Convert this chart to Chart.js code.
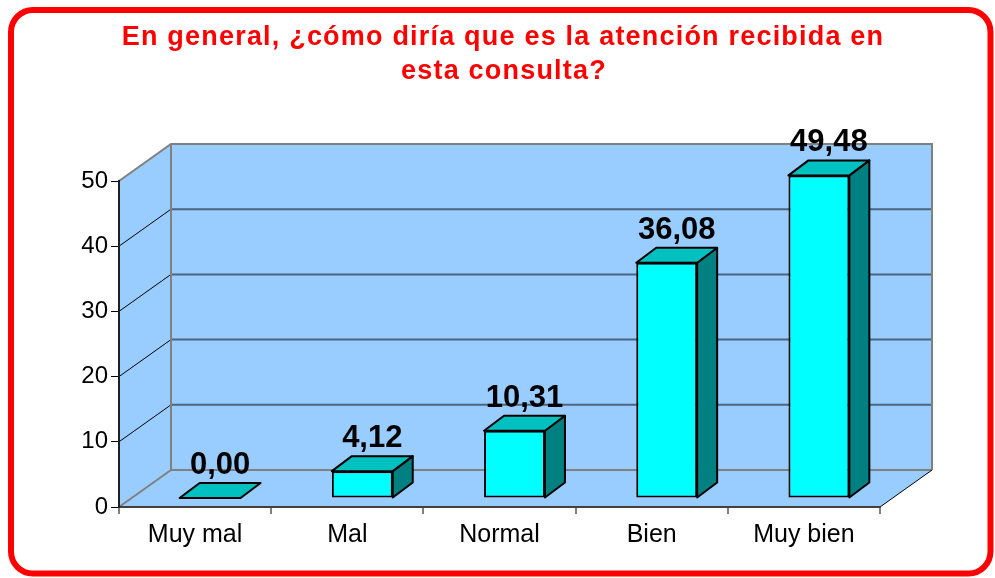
<!DOCTYPE html>
<html>
<head>
<meta charset="utf-8">
<script src="https://cdn.jsdelivr.net/npm/chart.js@4"></script>
<style>
  html, body { margin: 0; padding: 0; background: #fff; }
  #wrap { width: 995px; height: 578px; }
</style>
</head>
<body>
<div id="wrap"><canvas id="chart" width="995" height="578"></canvas></div>
<script>
let categorias = ['Muy mal', 'Mal', 'Normal', 'Bien', 'Muy bien'];
let porcentajes = [0.00, 4.12, 10.31, 36.08, 49.48];
let ticks_y = [0, 10, 20, 30, 40, 50];
let titulo = ['En general, ¿cómo diría que es la atención recibida en', 'esta consulta?'];

let fuente = '"Liberation Sans", Arial, sans-serif';

// profundidad del efecto 3D
let fondo = { dx: 52, dy: -37 };   // pared del fondo
let plano = { dx: 15, dy: -9 };    // cara frontal de las barras
let caja = { dx: 20, dy: -15 };    // grosor de cada barra

function coma(v) {
    return v.toFixed(2).replace('.', ',');
}

let marco3d = {
    id: 'marco3d',
    beforeDraw: function (chart) {
        let ctx = chart.ctx;
        let a = chart.chartArea;
        let ys = chart.scales.y;
        let L = a.left, R = a.right, T = a.top, B = a.bottom;
        let dx = fondo.dx, dy = fondo.dy;

        ctx.save();
        ctx.fillStyle = '#fff';
        ctx.fillRect(0, 0, chart.width, chart.height);

        // titulo
        ctx.fillStyle = '#ff0000';
        ctx.font = 'bold 27px ' + fuente;
        ctx.letterSpacing = '1.2px';
        ctx.textAlign = 'center';
        ctx.textBaseline = 'alphabetic';
        ctx.fillText(titulo[0], 503, 45);
        ctx.fillText(titulo[1], 504, 79);
        ctx.letterSpacing = '0px';

        // paredes
        ctx.fillStyle = '#99ccff';
        ctx.beginPath();
        ctx.moveTo(L, B); ctx.lineTo(L + dx, B + dy); ctx.lineTo(L + dx, T + dy); ctx.lineTo(L, T);
        ctx.closePath(); ctx.fill();
        ctx.beginPath();
        ctx.moveTo(L, B); ctx.lineTo(R, B); ctx.lineTo(R + dx, B + dy); ctx.lineTo(L + dx, B + dy);
        ctx.closePath(); ctx.fill();
        ctx.fillRect(L + dx, T + dy, R - L, B - T);

        // lineas de division
        ticks_y.forEach(function (t) {
            let y = ys.getPixelForValue(t);
            if (t > 0 && t < 50) {
                ctx.strokeStyle = '#4d6480';
                ctx.lineWidth = 2;
                ctx.beginPath();
                ctx.moveTo(L + dx, y + dy); ctx.lineTo(R + dx, y + dy);
                ctx.stroke();
                ctx.strokeStyle = '#000';
                ctx.lineWidth = 1;
                ctx.beginPath();
                ctx.moveTo(L, y); ctx.lineTo(L + dx, y + dy);
                ctx.stroke();
            }
        });

        // bordes grises
        ctx.strokeStyle = '#808080';
        ctx.lineWidth = 2;
        ctx.beginPath();
        ctx.moveTo(L, T); ctx.lineTo(L + dx, T + dy); ctx.lineTo(R + dx, T + dy); ctx.lineTo(R + dx, B + dy);
        ctx.moveTo(L + dx, T + dy); ctx.lineTo(L + dx, B + dy); ctx.lineTo(R + dx, B + dy);
        ctx.moveTo(L, B); ctx.lineTo(L + dx, B + dy);
        ctx.stroke();
        ctx.strokeStyle = '#000';
        ctx.lineWidth = 1;
        ctx.beginPath();
        ctx.moveTo(R, B); ctx.lineTo(R + dx, B + dy);
        ctx.stroke();

        // marco rojo
        ctx.strokeStyle = '#ff0000';
        ctx.lineWidth = 6;
        ctx.beginPath();
        ctx.roundRect(11, 10, 979.5, 563.5, 22);
        ctx.stroke();
        ctx.restore();
    },
    beforeDatasetDraw: function (chart) {
        chart.ctx.save();
        chart.ctx.translate(plano.dx, plano.dy);
    },
    afterDatasetDraw: function (chart) {
        chart.ctx.restore();
    },
    afterDatasetsDraw: function (chart) {
        let ctx = chart.ctx;
        let meta = chart.getDatasetMeta(0);
        ctx.save();
        ctx.translate(plano.dx, plano.dy);
        ctx.lineWidth = 2;
        ctx.lineJoin = 'round';
        ctx.strokeStyle = '#000';
        meta.data.forEach(function (bar, i) {
            let x0 = bar.x - bar.width / 2, x1 = bar.x + bar.width / 2;
            let top = bar.y, base = bar.base;
            // lado
            if (base - top > 0.5) {
                ctx.fillStyle = '#008080';
                ctx.beginPath();
                ctx.moveTo(x1, top); ctx.lineTo(x1 + caja.dx, top + caja.dy);
                ctx.lineTo(x1 + caja.dx, base + caja.dy); ctx.lineTo(x1, base);
                ctx.closePath(); ctx.fill(); ctx.stroke();
            }
            // tapa
            ctx.fillStyle = '#00c0c0';
            ctx.beginPath();
            ctx.moveTo(x0, top); ctx.lineTo(x0 + caja.dx, top + caja.dy);
            ctx.lineTo(x1 + caja.dx, top + caja.dy); ctx.lineTo(x1, top);
            ctx.closePath(); ctx.fill(); ctx.stroke();

            // etiqueta
            ctx.fillStyle = '#000';
            ctx.font = 'bold 31px ' + fuente;
            ctx.textAlign = 'center';
            ctx.textBaseline = 'alphabetic';
            ctx.fillText(coma(porcentajes[i]), bar.x + caja.dx / 2, top - 24);
        });
        ctx.restore();
    }
};

let grafico = new Chart(document.getElementById('chart'), {
    type: 'bar',
    data: {
        labels: categorias,
        datasets: [{
            label: 'Porcentaje',
            data: porcentajes,
            backgroundColor: '#00ffff',
            borderColor: '#000',
            borderWidth: 2,
            borderSkipped: false,
            categoryPercentage: 1,
            barPercentage: 0.4,
            clip: false
        }]
    },
    options: {
        responsive: false,
        animation: false,
        layout: {
            padding: { left: 0, right: 115, top: 181, bottom: 0 }
        },
        plugins: {
            legend: { display: false },
            title: { display: false },
            tooltip: { enabled: false }
        },
        scales: {
            x: {
                grid: {
                    offset: true,
                    drawOnChartArea: false,
                    drawTicks: true,
                    tickLength: 7,
                    color: '#808080',
                    lineWidth: 2
                },
                border: { color: '#404040', width: 2 },
                ticks: {
                    color: '#000',
                    font: { family: fuente, size: 25 },
                    padding: 6
                },
                afterFit: function (s) { s.height = 578 - 507; }
            },
            y: {
                min: 0,
                max: 50,
                afterBuildTicks: function (s) {
                    s.ticks = ticks_y.map(function (v) { return { value: v }; });
                },
                grid: {
                    drawOnChartArea: false,
                    drawTicks: true,
                    tickLength: 8,
                    color: '#000',
                    lineWidth: 1
                },
                border: { color: '#202020', width: 2 },
                ticks: {
                    color: '#000',
                    font: { family: fuente, size: 24 },
                    padding: 3
                },
                afterFit: function (s) { s.width = 119; }
            }
        }
    },
    plugins: [marco3d]
});
</script>
</body>
</html>
